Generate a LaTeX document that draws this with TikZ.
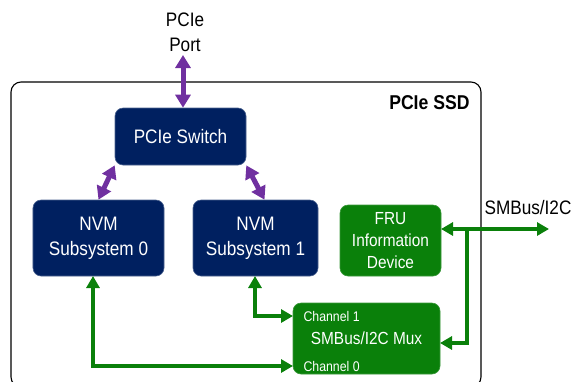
\documentclass[tikz,border=0pt]{standalone}
\usepackage{fontspec}
\setmainfont{Liberation Sans}[FakeStretch=0.88]
\usetikzlibrary{arrows.meta,calc}
\definecolor{navy}{RGB}{0,32,96}
\definecolor{ggreen}{RGB}{10,128,10}
\definecolor{purp}{RGB}{112,48,160}
\tikzset{
  gtip/.tip={Triangle[width=13bp,length=12bp]},
  ptip/.tip={Triangle[width=15bp,length=13bp]},
  nbox/.style={fill=navy, draw=navy!70!white, line width=0.6bp, rounded corners=8bp, text=white, align=center, inner sep=0pt},
  gbox/.style={fill=ggreen, draw=ggreen!80!white, line width=0.6bp, rounded corners=8bp, text=white, align=center, inner sep=0pt},
  parrow/.style={draw=purp, line width=5bp, ptip-ptip},
  gline/.style={draw=ggreen, line width=4bp},
  big/.style={font=\fontsize{19.5bp}{25bp}\selectfont},
  mid/.style={font=\fontsize{17.5bp}{22bp}\selectfont},
  small/.style={font=\fontsize{14bp}{16bp}\selectfont},
}
\begin{document}
\begin{tikzpicture}[x=1bp,y=-1bp]
\useasboundingbox (0,0) rectangle (572,381);
% outer box
\draw[line width=1.1bp, rounded corners=10bp] (11,82) rectangle (481,387);
\node[font=\fontsize{20bp}{24bp}\selectfont\bfseries, anchor=east] (ssd) at (473,103) {PCIe SSD};
% label
\node[big, align=center] (port) at (185,32) {PCIe\\Port};
% nodes
\node[nbox, big, minimum width=131bp, minimum height=57bp] (sw) at (180.5,136.5) {PCIe Switch};
\node[nbox, big, minimum width=131bp, minimum height=76bp] (nvm0) at (98.5,238) {NVM\\Subsystem 0};
\node[nbox, big, minimum width=125bp, minimum height=76bp] (nvm1) at (255.5,238) {NVM\\Subsystem 1};
\node[gbox, mid, minimum width=101bp, minimum height=71bp] (fru) at (390.5,240.5) {FRU\\Information\\Device};
\node[gbox, mid, minimum width=147bp, minimum height=71bp] (mux) at (366.5,338.5) {SMBus/I2C Mux};
\node[small, text=white, anchor=west] (ch1) at (300,316) {Channel 1};
\node[small, text=white, anchor=west] (ch0) at (300,366) {Channel 0};
\node[big] (smb) at (528,208) {SMBus/I2C};
% purple links
\coordinate (pt) at (183,55);
\draw[parrow] (pt) -- (pt |- sw.north);
\draw[parrow] (sw.south west) -- (nvm0.north);
\draw[parrow] (sw.south east) -- ($(nvm1.north)+(9,0)$);
% green links
\coordinate (a0) at (93,276);
\coordinate (m0) at (293,366);
\draw[gline, gtip-gtip] (a0) |- (m0);
\coordinate (a1) at (255,276);
\coordinate (m1) at (293,316);
\draw[gline, gtip-gtip] (a1) |- (m1);
\coordinate (fe) at (441,229);
\coordinate (j) at (467,229);
\coordinate (out) at (549,229);
\coordinate (me) at (440,343);
\draw[gline, gtip-gtip] (fe) -- (out);
\draw[gline, -gtip] (j) |- (me);
\end{tikzpicture}
\end{document}
